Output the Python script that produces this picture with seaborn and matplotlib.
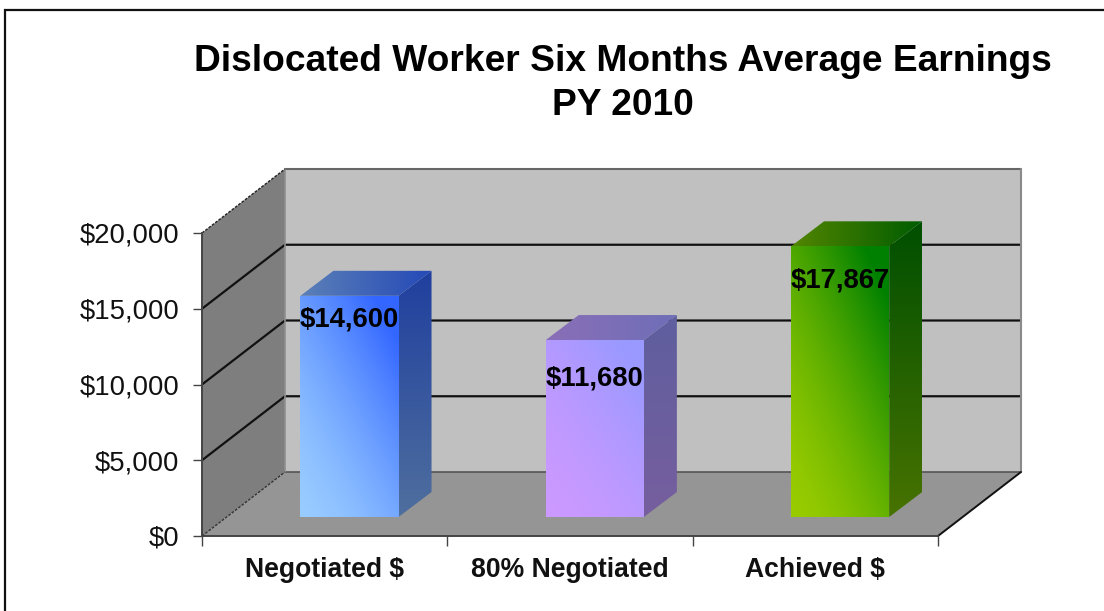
import numpy as np
import pandas as pd
import matplotlib
matplotlib.use("Agg")
import matplotlib.pyplot as plt
from matplotlib.patches import Polygon
from matplotlib.lines import Line2D
import seaborn as sns

TITLE = "Dislocated Worker Six Months Average Earnings\nPY 2010"
CATEGORIES = ["Negotiated $", "80% Negotiated", "Achieved $"]
VALUES = [14600, 11680, 17867]
VALUE_LABELS = ["$14,600", "$11,680", "$17,867"]
Y_TICKS = [0, 5000, 10000, 15000, 20000]
Y_TICK_LABELS = ["$0", "$5,000", "$10,000", "$15,000", "$20,000"]

# styling
LIGHT = [(153, 204, 255), (204, 153, 255), (153, 204, 0)]
DARK = [(51, 102, 255), (153, 153, 255), (0, 128, 0)]
LABEL_DROP_PX = [24, 38, 34]

W, H = 1104, 611
sns.set_theme(style="white")
plt.rcParams["font.family"] = ["Liberation Sans", "DejaVu Sans"]

fig = plt.figure(figsize=(W / 100, H / 100), dpi=100, facecolor="white")
PX_L, PX_R, PX_B, PX_T = 202, 938, 536, 233
ax = fig.add_axes([PX_L / W, 1 - PX_B / H, (PX_R - PX_L) / W, (PX_B - PX_T) / H])
ax.set_xlim(-0.5, 2.5)
ax.set_ylim(0, 20000)
ax.patch.set_visible(False)
cat_px = (PX_R - PX_L) / 3
val_px = 20000 / (PX_B - PX_T)


def depth(x, y, dx_px, dy_px):
    return (x + dx_px / cat_px, y + dy_px * val_px)


WALL_DX, WALL_DY = 83, 64
x0, x1, ymax = -0.5, 2.5, 20000
bk = lambda x, y: depth(x, y, WALL_DX, WALL_DY)
ax.add_patch(Polygon([bk(x0, 0), bk(x1, 0), bk(x1, ymax), bk(x0, ymax)],
                     fc="#c0c0c0", ec="none", clip_on=False, zorder=1))
ax.add_patch(Polygon([(x0, 0), bk(x0, 0), bk(x0, ymax), (x0, ymax)],
                     fc="#7e7e7e", ec="none", clip_on=False, zorder=1))
ax.add_patch(Polygon([(x0, 0), (x1, 0), bk(x1, 0), bk(x0, 0)],
                     fc="#959595", ec="none", clip_on=False, zorder=1))

# gridlines on back and side walls
for v in Y_TICKS[1:4]:
    p = bk(x0, v)
    q = bk(x1, v)
    ax.plot([x0, p[0], q[0]], [v, p[1], q[1]], color="#111111", lw=1.6, clip_on=False, zorder=2,
            solid_joinstyle="miter")
ax.plot(*zip(bk(x0, 20000), bk(x1, 20000)), color="#666666", lw=1.5, clip_on=False, zorder=2)
ax.plot(*zip(bk(x0, 0), bk(x1, 0)), color="#555555", lw=1.2, clip_on=False, zorder=2)
ax.plot(*zip(bk(x1, 0), bk(x1, 20000)), color="#8a8a8a", lw=1.5, clip_on=False, zorder=2)
ax.plot(*zip(bk(x0, 0), bk(x0, 20000)), color="#8f8f8f", lw=1.2, clip_on=False, zorder=2)
ax.plot(*zip((x1, 0), bk(x1, 0)), color="#111111", lw=1.4, clip_on=False, zorder=2)
ax.plot(*zip((x0, 0), bk(x0, 0)), color="#333333", lw=1, ls=(0, (2, 1)), clip_on=False, zorder=2)
ax.plot(*zip((x0, 20000), bk(x0, 20000)), color="#222222", lw=1, ls=(0, (2, 1)), clip_on=False, zorder=2)

# axes
for s in ("top", "right"):
    ax.spines[s].set_visible(False)
for s in ("left", "bottom"):
    ax.spines[s].set_color("#444444")
    ax.spines[s].set_linewidth(1.4)
    ax.spines[s].set_zorder(3)
ax.set_yticks(Y_TICKS, Y_TICK_LABELS, fontsize=19.8, color="#111111")
ax.tick_params(axis="y", which="major", length=6.5, width=1, color="#444444", left=True, pad=10)
ax.set_xticks(range(3), CATEGORIES, fontsize=19.1, fontweight="bold", color="#111111")
ax.set_xticks([-0.5, 0.5, 1.5, 2.5], minor=True)
ax.tick_params(axis="x", which="major", length=0, pad=15)
ax.tick_params(axis="x", which="minor", length=7, width=1, color="#444444", bottom=True)

# bars: a plane shifted into the depth of the box
BAR_DX, BAR_DY = 24.8, 19
ax_b = fig.add_axes([(PX_L + BAR_DX) / W, 1 - (PX_B - BAR_DY) / H, (PX_R - PX_L) / W, (PX_B - PX_T) / H])
df = pd.DataFrame({"category": CATEGORIES, "value": VALUES})
sns.barplot(data=df, x="category", y="value", ax=ax_b, width=0.4, color="#808080", saturation=1, errorbar=None)
ax_b.set_xlim(-0.5, 2.5)
ax_b.set_ylim(0, 20000)
ax_b.axis("off")
fig.canvas.draw()

SIDE_DX, SIDE_DY = 33 / cat_px, 25 * val_px
N = 64


def grad(t, c0, c1, shade=1.0):
    c0 = np.array(c0) / 255
    c1 = np.array(c1) / 255
    return np.clip((c0 + (c1 - c0) * t[..., None]) * shade, 0, 1)


def paint(img, poly, extent):
    clip = Polygon(poly, transform=ax_b.transData, fc="none", ec="none")
    ax_b.add_patch(clip)
    im = ax_b.imshow(img, extent=extent, origin="lower", aspect="auto", interpolation="bilinear", zorder=3)
    im.set_clip_path(clip)
    im.set_clip_box(None)


for i, bar in enumerate(ax_b.patches[:3]):
    l, w, h = bar.get_x(), bar.get_width(), bar.get_height()
    r = l + w
    u, v = np.meshgrid(np.linspace(0, 1, N), np.linspace(0, 1, N))
    t = np.clip(0.5 * u + 0.62 * v, 0, 1) ** 1.5
    paint(grad(t, LIGHT[i], DARK[i]), [(l, 0), (r, 0), (r, h), (l, h)], (l, r, 0, h))
    # side face
    paint(grad(0.25 + 0.75 * v, LIGHT[i], DARK[i], 0.62),
          [(r, 0), (r + SIDE_DX, SIDE_DY), (r + SIDE_DX, h + SIDE_DY), (r, h)],
          (r, r + SIDE_DX, 0, h + SIDE_DY))
    # top face
    paint(grad(0.25 + 0.75 * u, LIGHT[i], DARK[i], 0.72),
          [(l, h), (r, h), (r + SIDE_DX, h + SIDE_DY), (l + SIDE_DX, h + SIDE_DY)],
          (l, r + SIDE_DX, h, h + SIDE_DY))
    ax_b.annotate(VALUE_LABELS[i], xy=(i, h), xytext=(0, -LABEL_DROP_PX[i] * 0.72), textcoords="offset points",
                  ha="center", va="center", fontsize=19.8, fontweight="bold", color="black", zorder=6)
    bar.set_visible(False)
ax_b.set_xlim(-0.5, 2.5)
ax_b.set_ylim(0, 20000)

fig.text(623 / W, 1 - 83.5 / H, TITLE, ha="center", va="center", fontsize=26.7, fontweight="bold",
         color="black", linespacing=1.33)

# outer frame (top and left)
fig.add_artist(Line2D([1, 5 / W, 5 / W], [1 - 10 / H, 1 - 10 / H, 0], color="#111111", lw=1.6,
                      transform=fig.transFigure, solid_joinstyle="miter"))

fig.savefig("out.png", dpi=100, facecolor="white")
